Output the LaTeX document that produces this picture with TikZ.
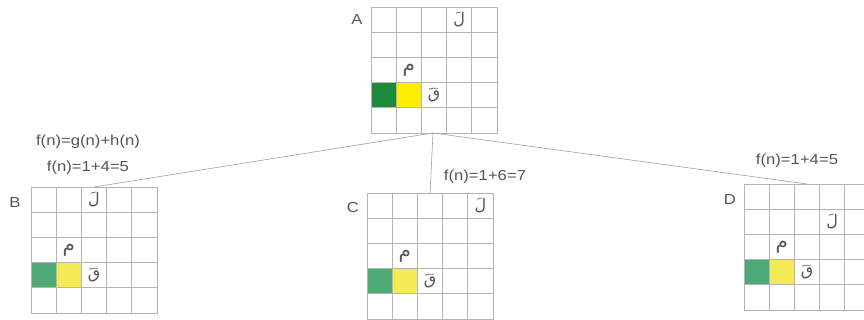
\documentclass[tikz,border=0pt]{standalone}
\usepackage{fontspec}
\setmainfont{Liberation Sans}[FakeStretch=1.15]
\newfontfamily\arabicfont[Script=Arabic]{DejaVu Sans}
\TeXXeTstate=1
\definecolor{gridgray}{HTML}{B4B4B4}
\definecolor{txtgray}{HTML}{555555}
\definecolor{linegray}{HTML}{A0A0A0}
\definecolor{darkgreen}{HTML}{1C8C3C}
\definecolor{brightyellow}{HTML}{FFEE00}
\definecolor{softgreen}{HTML}{4DAA74}
\definecolor{softyellow}{HTML}{F3EA55}
\begin{document}
\begin{tikzpicture}[x=1pt,y=-1pt,
  board/.style={draw=gridgray,line width=0.8pt,minimum width=126pt,minimum height=126pt,inner sep=0pt,outer sep=0pt},
  lbl/.style={text=txtgray,font=\fontsize{14.5}{16}\selectfont,inner sep=0pt},
  ar/.style={text=txtgray,font=\arabicfont\fontsize{16}{18}\selectfont,inner sep=0pt},
  arbig/.style={ar,font=\arabicfont\fontsize{20}{22}\selectfont},
  conn/.style={draw=linegray,line width=0.6pt}]
\useasboundingbox (0,0) rectangle (864,320);
\def\cs{25.2}
% boards (top-left corners)
\node[board,anchor=north west] (A) at (371,7) {};
\node[board,anchor=north west] (B) at (31,187) {};
\node[board,anchor=north west] (C) at (367,193) {};
\node[board,anchor=north west] (D) at (744,184) {};
% coloured cells
\fill[darkgreen] ([yshift=-3*\cs pt]A.north west) rectangle ++(\cs,\cs);
\fill[brightyellow] ([xshift=\cs pt,yshift=-3*\cs pt]A.north west) rectangle ++(\cs,\cs);
\foreach \g in {B,C,D}{
  \fill[softgreen] ([yshift=-3*\cs pt]\g.north west) rectangle ++(\cs,\cs);
  \fill[softyellow] ([xshift=\cs pt,yshift=-3*\cs pt]\g.north west) rectangle ++(\cs,\cs);
}
% grid lines
\foreach \g in {A,B,C,D}{
  \foreach \i in {0,...,5}{
    \draw[gridgray,line width=0.8pt] ([xshift=\i*\cs pt]\g.north west) -- ++(0,126);
    \draw[gridgray,line width=0.8pt] ([yshift=-\i*\cs pt]\g.north west) -- ++(126,0);
  }
}
% board labels
\node[lbl] (la) at (357,20) {A};
\node[lbl] (lb) at (15,203) {B};
\node[lbl] (lc) at (353,208) {C};
\node[lbl] (ld) at (730,200) {D};
% Arabic letters: placed at col,row of a board
\newcommand\putletter[5]{\node[#5] at ([xshift=#2*\cs pt+0.5*\cs pt,yshift=-#3*\cs pt-0.5*\cs pt]#1.north west) {\beginR #4\endR};}
\foreach \g in {A,B,C,D}{
  \putletter{\g}{1}{2}{م}{arbig}
  \putletter{\g}{2}{3}{قَ}{ar}
}
\putletter{A}{3}{0}{لَ}{ar}
\putletter{B}{2}{0}{لَ}{ar}
\putletter{C}{4}{0}{لَ}{ar}
\putletter{D}{3}{1}{لَ}{ar}
% formulas
\node[lbl] (fb1) at (88,142) {f(n)=g(n)+h(n)};
\node[lbl] (fb2) at (88,168) {f(n)=1+4=5};
\node[lbl] (fc) at (485,177) {f(n)=1+6=7};
\node[lbl] (fd) at (797,161) {f(n)=1+4=5};
% connectors
\coordinate (o) at ([xshift=-1pt]A.south);
\draw[conn] (o) -- (B.north);
\draw[conn] (o) -- (C.north);
\draw[conn] (o) -- (D.north);
\end{tikzpicture}
\end{document}
